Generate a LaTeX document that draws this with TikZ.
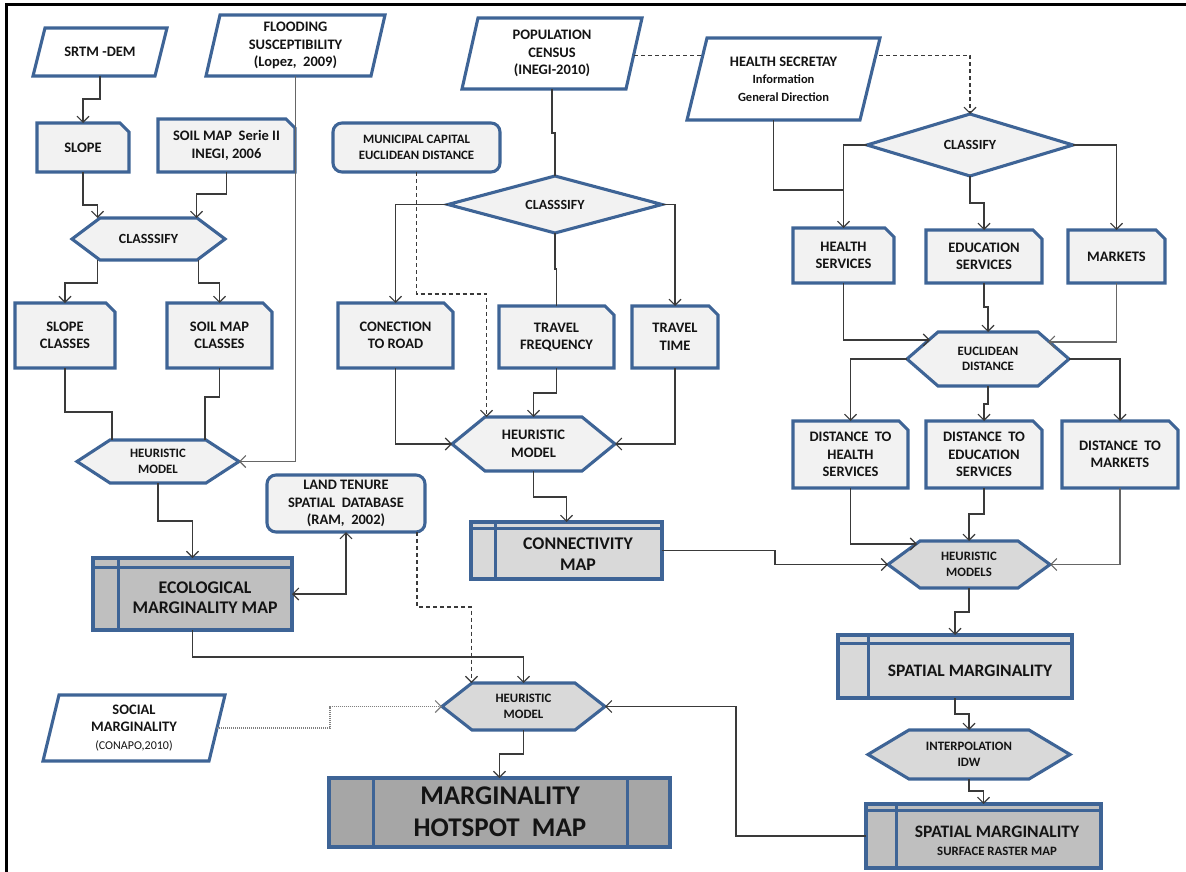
\documentclass[tikz,border=0pt]{standalone}
\usepackage{fontspec}
\setmainfont{Carlito}
\usetikzlibrary{arrows.meta}
\definecolor{shapeblue}{HTML}{3E6496}
\definecolor{lightfill}{HTML}{F2F2F2}
\definecolor{midfill}{HTML}{D9D9D9}
\definecolor{darkfill}{HTML}{BFBFBF}
\definecolor{hotfill}{HTML}{A6A6A6}
\definecolor{linecol}{HTML}{3A3A3A}
\definecolor{txtcol}{HTML}{141414}
\tikzset{
 shp/.style={draw=shapeblue, line width=3.1pt, line join=miter},
 inner/.style={draw=shapeblue, line width=3pt},
 box/.style={inner sep=0pt, outer sep=0pt, align=center, text=txtcol},
 ln/.style={draw=linecol, line width=1.1pt},
 arr/.style={ln, -{Straight Barb[length=6pt,width=12pt]}},
 darr/.style={ln, {Straight Barb[length=6pt,width=12pt]}-{Straight Barb[length=6pt,width=12pt]}},
 dsh/.style={arr, dash pattern=on 4pt off 3pt},
 dtt/.style={arr, draw=gray, dash pattern=on 1pt off 1pt},
 fa/.style={font=\fontsize{14.5}{17.5}\selectfont\bfseries},
 fb/.style={font=\fontsize{12.8}{15.5}\selectfont\bfseries},
 fc/.style={font=\fontsize{14}{16}\selectfont\bfseries},
 fd/.style={font=\fontsize{17.8}{21}\selectfont\bfseries},
 fe/.style={font=\fontsize{27}{32}\selectfont\bfseries},
}
% parallelogram: name, top-left x, bottom-left x, width, top y, bottom y, style, text
\newcommand\Para[8]{%
 \filldraw[shp,fill=white] (#2,#5) -- ({#2+#4},#5) -- ({#3+#4},#6) -- (#3,#6) -- cycle;
 \node[box,minimum width={#4*1pt},minimum height={(#6-#5)*1pt},#7] (#1) at ({(#2+#3)/2+#4/2},{(#5+#6)/2}) {#8};}
% document box: name x1 y1 x2 y2 style text
\newcommand\Doc[7]{%
 \filldraw[shp,fill=lightfill] (#2,#3) -- ({#4-9},#3) -- (#4,{#3+9}) -- (#4,#5) -- (#2,#5) -- cycle;
 \node[box,minimum width={(#4-#2)*1pt},minimum height={(#5-#3)*1pt},#6] (#1) at ({(#2+#4)/2},{(#3+#5)/2}) {#7};}
% hexagon: name cx cy hw hh inset fill style text
\newcommand\Hex[9]{%
 \filldraw[shp,fill=#7] ({#2-#4},#3) -- ({#2-#4+#6},{#3-#5}) -- ({#2+#4-#6},{#3-#5}) -- ({#2+#4},#3) -- ({#2+#4-#6},{#3+#5}) -- ({#2-#4+#6},{#3+#5}) -- cycle;
 \node[box,minimum width={2*#4*1pt},minimum height={2*#5*1pt},#8] (#1) at (#2,#3) {#9};}
% diamond: name cx cy hw hh style text
\newcommand\Dia[7]{%
 \filldraw[shp,fill=lightfill] ({#2-#4},#3) -- (#2,{#3-#5}) -- ({#2+#4},#3) -- (#2,{#3+#5}) -- cycle;
 \node[box,minimum width={2*#4*1pt},minimum height={2*#5*1pt},#6] (#1) at (#2,#3) {#7};}
% map box: name x1 y1 x2 y2 bar band fill
\newcommand\Map[8]{%
 \filldraw[shp,fill=#8] (#2,#3) rectangle (#4,#5);
 \draw[inner] (#6,#3) -- (#6,#5);
 \draw[inner] (#2,{#3+#7}) -- (#4,{#3+#7});
 \filldraw[shp,fill=none] (#2,#3) rectangle (#4,#5);
 \node[box,minimum width={(#4-#2)*1pt},minimum height={(#5-#3)*1pt}] (#1) at ({(#2+#4)/2},{(#3+#5)/2}) {};}
\begin{document}
\begin{tikzpicture}[x=1pt,y=-1pt]
\useasboundingbox (0,0) rectangle (1186,872);
\fill[white] (0,0) rectangle (1186,872);
\draw[line width=3pt,black] (6,874) -- (6,5) -- (1188,5);

% ---------- left column ----------
\Para{srtm}{45}{33}{122}{28}{76}{fa}{SRTM -DEM}
\Para{flood}{220}{206}{165}{15}{76}{fa}{FLOODING\\SUSCEPTIBILITY\\(Lopez,~ 2009)}
\Doc{slope}{37}{123}{129}{172}{fa}{SLOPE}
\Doc{soilmap}{158}{119}{295}{172}{fa}{SOIL MAP~ Serie II\\INEGI, 2006}
\Hex{classL}{148.5}{239}{76.5}{21}{28}{lightfill}{fc}{CLASSSIFY}
\Doc{slopecl}{15}{303}{115}{368}{fa}{SLOPE\\CLASSES}
\Doc{soilcl}{167}{303}{272}{368}{fa}{SOIL MAP\\CLASSES}
\Hex{heurL}{158}{461.5}{81}{21.5}{33}{lightfill}{fb}{HEURISTIC\\MODEL}
\Map{eco}{93}{558}{292}{630}{118}{9}{darkfill}
\node[box,fd,font=\fontsize{17.8}{20}\selectfont\bfseries] (ecoT) at (205,598) {ECOLOGICAL\\MARGINALITY MAP};
\node[box,fa,draw=shapeblue,line width=3.1pt,fill=lightfill,rounded corners=9pt,minimum width=158pt,minimum height=57pt] (land) at (346,503.5) {LAND TENURE\\SPATIAL~ DATABASE\\(RAM,~ 2002)};
\Para{social}{59}{43}{166}{695}{761}{fa}{SOCIAL\\MARGINALITY\\{\fontsize{12}{15}\selectfont\mdseries (CONAPO,2010)}}

% ---------- middle column ----------
\Para{pop}{478}{462}{164}{18}{89}{fa}{POPULATION\\CENSUS\\(INEGI-2010)}
\node[box,fb,draw=shapeblue,line width=3.1pt,fill=lightfill,rounded corners=9pt,minimum width=167pt,minimum height=49pt] (muni) at (416.5,147.5) {MUNICIPAL CAPITAL\\EUCLIDEAN DISTANCE};
\Dia{classM}{555}{204.5}{107}{28.5}{fc}{CLASSSIFY}
\Doc{conection}{338}{303}{453}{368}{fa}{CONECTION\\TO ROAD}
\Doc{travfreq}{499}{306}{614}{368}{fa}{TRAVEL\\FREQUENCY}
\Doc{travtime}{632}{306}{718}{368}{fa}{TRAVEL\\TIME}
\Hex{heurM}{533.5}{444}{81.5}{27}{33}{lightfill}{fa}{HEURISTIC\\MODEL}
\Map{conn}{471}{522}{662}{579}{495}{6}{midfill}
\node[box,fd] (connT) at (578,554) {CONNECTIVITY\\MAP};
\Hex{heurB}{523.5}{706.5}{81.5}{23.5}{30}{midfill}{fb}{HEURISTIC\\MODEL}
\filldraw[shp,fill=hotfill] (329,778) rectangle (670,847);
\draw[inner] (373,778) -- (373,847);
\draw[inner] (627,778) -- (627,847);
\node[box,minimum width=341pt,minimum height=69pt] (hot) at (499.5,812.5) {};
\node[box,fe] (hotT) at (500,812) {MARGINALITY\\HOTSPOT~ MAP};

% ---------- right column ----------
\Dia{classR}{970}{145}{103}{31}{fc}{CLASSIFY}
\draw[dsh] ([yshift=-2pt]pop.east) -| (classR.north);
\Para{hsec}{707}{687}{173}{38}{120}{fa}{HEALTH SECRETAY\\{\fontsize{12.5}{15.5}\selectfont Information}\\{\fontsize{12.5}{15.5}\selectfont General Direction}}
\Doc{healthsv}{793}{228}{894}{283}{fa}{HEALTH\\SERVICES}
\Doc{edusv}{926}{230}{1042}{283}{fa}{EDUCATION\\SERVICES}
\Doc{markets}{1068}{230}{1165}{283}{fa}{MARKETS}
\Hex{eucl}{988}{359}{81}{27}{31}{lightfill}{fb}{EUCLIDEAN\\DISTANCE}
\Doc{dhealth}{793}{421}{908}{488}{fa}{DISTANCE~ TO\\HEALTH\\SERVICES}
\Doc{dedu}{926}{421}{1042}{488}{fa}{DISTANCE~ TO\\EDUCATION\\SERVICES}
\Doc{dmarkets}{1062}{421}{1178}{488}{fa}{DISTANCE~ TO\\MARKETS}
\Hex{heurR}{969}{564.5}{81}{23.5}{32}{midfill}{fb}{HEURISTIC\\MODELS}
\Map{spm}{838}{635}{1072}{698}{868}{8}{midfill}
\node[box,font=\fontsize{17.5}{20}\selectfont\bfseries] (spmT) at (970,671) {SPATIAL MARGINALITY};
\Hex{interp}{969}{754.5}{101}{24.5}{41}{midfill}{fb}{INTERPOLATION\\IDW}
\Map{surf}{866}{804}{1101}{868}{896}{6}{darkfill}
\node[box,font=\fontsize{17.5}{20}\selectfont\bfseries] (surfT) at (997,841) {SPATIAL MARGINALITY\\[-2pt]{\fontsize{12.8}{15}\selectfont SURFACE RASTER MAP}};

% ---------- connectors: left ----------
\draw[arr] (srtm.south) -- ++(0,23) -| (slope.north);
\draw[arr] (slope.south) -- ++(0,33) -| ([xshift=-51pt]classL.north);
\draw[arr] (soilmap.south) -- ++(0,22) -| ([xshift=48pt]classL.north);
\draw[arr] ([xshift=-51pt]classL.south) -- ++(0,23) -| (slopecl.north);
\draw[arr] ([xshift=50pt]classL.south) -- ++(0,23) -| (soilcl.north);
\draw[ln] (slopecl.south) -- ++(0,44) -| ([xshift=-46pt]heurL.north);
\draw[ln] (soilcl.south) -- ++(0,29) -| ([xshift=47pt]heurL.north);
\draw[arr,draw=gray!80!black] (flood.south) |- (heurL.east);
\draw[arr] (heurL.south) -- ++(0,38) -| (eco.north);
\draw[darr] (eco.east) -| (land.south);
\draw[dsh] ([xshift=71pt]land.south) -- ++(0,75) -| ([xshift=-52pt]heurB.north);
\draw[arr] (eco.south) -- ++(0,27) -| (heurB.north);
\draw[dtt] (social.east) -- ++(113,0) |- (heurB.west);
\draw[arr] (heurB.south) -- ++(0,24) -| (hot.north);
\draw[arr] (surf.west) -- ++(-130,0) |- (heurB.east);

% ---------- connectors: middle ----------
\draw[ln] (pop.south) -- ++(0,44) -| (classM.north);
\draw[arr] (classM.west) -| (conection.north);
\draw[arr] (classM.east) -| (travtime.north);
\draw[ln] (classM.south) -- ++(0,36) -| (travfreq.north);
\draw[dsh] (muni.south) -- ++(0,122) -| ([xshift=-47pt]heurM.north);
\draw[arr] (conection.south) |- (heurM.west);
\draw[arr] (travfreq.south) -- ++(0,25) -| (heurM.north);
\draw[arr] (travtime.south) |- (heurM.east);
\draw[arr] (heurM.south) -- ++(0,26) -| (conn.north);
\draw[arr] (conn.east) -- ++(113,0) |- (heurR.west);

% ---------- connectors: right ----------
\draw[ln] ([xshift=-10pt]hsec.south) -- ++(0,70) -| (healthsv.north);
\draw[arr] (classR.west) -| (healthsv.north);
\draw[arr] (classR.south) -- ++(0,27) -| (edusv.north);
\draw[arr] (classR.east) -| (markets.north);
\draw[arr] (healthsv.south) |- ([xshift=-58pt,yshift=19pt]eucl.center);
\draw[arr] (edusv.south) -- ++(0,24) -| (eucl.north);
\draw[arr,draw=gray!80!black] (markets.south) |- ([xshift=60pt,yshift=17pt]eucl.center);
\draw[arr] (eucl.west) -| (dhealth.north);
\draw[arr] (eucl.south) -- ++(0,18) -| (dedu.north);
\draw[arr] (eucl.east) -| (dmarkets.north);
\draw[arr] (dhealth.south) |- ([xshift=-52pt,yshift=20.5pt]heurR.center);
\draw[arr] (dedu.south) -- ++(0,26) -| (heurR.north);
\draw[arr,draw=gray!80!black] (dmarkets.south) |- (heurR.east);
\draw[arr] (heurR.south) -- ++(0,24) -| (spm.north);
\draw[arr] (spm.south) -- ++(0,16) -| (interp.north);
\draw[arr] (interp.south) -- ++(0,12) -| (surf.north);
\end{tikzpicture}
\end{document}
